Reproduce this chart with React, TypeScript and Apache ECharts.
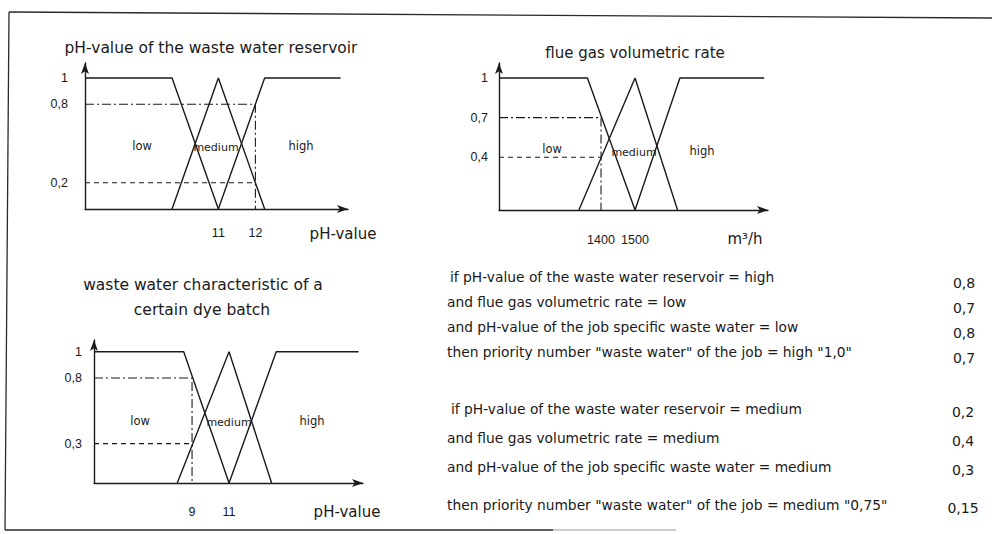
import React, { useEffect, useRef } from "react";
import * as echarts from "echarts";

// ---------- Chart 1: pH-value of the waste water reservoir ----------
const resLow = [[7.4, 1], [9.75, 1], [11, 0]];
const resMedium = [[9.75, 0], [11, 1], [12.25, 0]];
const resHigh = [[11, 0], [12.25, 1], [14.3, 1]];
const resReading = 12;
const resDegreeHigh = 0.8;
const resDegreeMedium = 0.2;
const resYTicks = [0.2, 0.8, 1];
const resXTicks = [11, 12];
const resXRange = [7.4, 14.5];

// ---------- Chart 2: flue gas volumetric rate ----------
const gasLow = [[1100, 1], [1360, 1], [1500, 0]];
const gasMedium = [[1335, 0], [1500, 1], [1625, 0]];
const gasHigh = [[1500, 0], [1632, 1], [1880, 1]];
const gasReading = 1400;
const gasDegreeLow = 0.7;
const gasDegreeMedium = 0.4;
const gasYTicks = [0.4, 0.7, 1];
const gasXTicks = [1400, 1500];
const gasXRange = [1100, 1891];

// ---------- Chart 3: waste water characteristic of a certain dye batch ----------
const dyeLow = [[3.7, 1], [8.55, 1], [11, 0]];
const dyeMedium = [[8.2, 0], [11, 1], [13.3, 0]];
const dyeHigh = [[11, 0], [13.55, 1], [18, 1]];
const dyeReading = 9;
const dyeDegreeLow = 0.8;
const dyeDegreeMedium = 0.3;
const dyeYTicks = [0.3, 0.8, 1];
const dyeXTicks = [9, 11];
const dyeXRange = [3.7, 18.24];

// ---------- Rules ----------
const ruleHighLines = [
  "if pH-value of the waste water reservoir = high",
  "and flue gas volumetric rate = low",
  "and pH-value of the job specific waste water = low",
  'then priority number "waste water" of the job = high "1,0"',
];
const ruleHighDegrees = [0.8, 0.7, 0.8, 0.7];
const ruleMediumLines = [
  "if pH-value of the waste water reservoir = medium",
  "and flue gas volumetric rate = medium",
  "and pH-value of the job specific waste water = medium",
  'then priority number "waste water" of the job = medium "0,75"',
];
const ruleMediumDegrees = [0.2, 0.4, 0.3, 0.15];

const INK = "#1a1a1a";
const FONT = "'DejaVu Sans', sans-serif";
const TICKFONT = "'Liberation Sans', Arial, sans-serif";

const comma = (v: number) => String(v).replace(".", ",");

function axesFor(idx: number, xr: number[], yMax: number, xTicks: number[], yTicks: number[], xMargin: number, yMargin: number) {
  const axisLine = {
    show: true,
    onZero: false,
    symbol: ["none", "arrow"],
    symbolSize: [6, 11],
    lineStyle: { color: INK, width: 1.4 },
  };
  const x = {
    type: "value",
    gridIndex: idx,
    min: xr[0],
    max: xr[1],
    axisLine,
    axisTick: { show: false },
    splitLine: { show: false },
    axisLabel: {
      customValues: xTicks,
      formatter: (v: number) => comma(v),
      margin: xMargin,
      color: INK,
      fontSize: 12.5,
      fontFamily: TICKFONT,
    },
  };
  const y = {
    type: "value",
    gridIndex: idx,
    min: 0,
    max: yMax,
    axisLine,
    axisTick: { show: false },
    splitLine: { show: false },
    axisLabel: {
      customValues: yTicks,
      formatter: (v: number) => comma(v),
      margin: yMargin,
      color: INK,
      fontSize: 12.5,
      fontFamily: TICKFONT,
    },
  };
  return { x, y };
}

function seriesFor(idx: number, curves: number[][][], dashDot: number[][], dashed: number[][]) {
  const base = {
    type: "line",
    xAxisIndex: idx,
    yAxisIndex: idx,
    symbol: "none",
    silent: true,
    animation: false,
  };
  const out: any[] = curves.map((c) => ({
    ...base,
    data: c,
    lineStyle: { color: INK, width: 1.4 },
  }));
  out.push({ ...base, data: dashDot, lineStyle: { color: INK, width: 1.1, type: [9, 3, 2, 3] } });
  out.push({ ...base, data: dashed, lineStyle: { color: INK, width: 1.1, type: [5, 4] } });
  return out;
}

function txt(x: number, y: number, text: string, size: number, align = "center", family = FONT) {
  return {
    type: "text",
    x,
    y,
    silent: true,
    style: { text, fill: INK, fontSize: size, fontFamily: family, align, verticalAlign: "middle" },
  };
}

export default function App() {
  const ref = useRef<HTMLDivElement>(null);

  useEffect(() => {
    if (!ref.current) return;
    const chart = echarts.init(ref.current, null, { renderer: "svg" });

    const a1 = axesFor(0, resXRange, 1.115, resXTicks, resYTicks, 17, 17);
    const a2 = axesFor(1, gasXRange, 1.114, gasXTicks, gasYTicks, 23, 11);
    const a3 = axesFor(2, dyeXRange, 1.09, dyeXTicks, dyeYTicks, 22, 12);

    const series = [
      ...seriesFor(
        0,
        [resLow, resMedium, resHigh],
        [[resXRange[0], resDegreeHigh], [resReading, resDegreeHigh], [resReading, 0]],
        [[resXRange[0], resDegreeMedium], [resReading, resDegreeMedium]]
      ),
      ...seriesFor(
        1,
        [gasLow, gasMedium, gasHigh],
        [[gasXRange[0], gasDegreeLow], [gasReading, gasDegreeLow], [gasReading, 0]],
        [[gasXRange[0], gasDegreeMedium], [gasReading, gasDegreeMedium]]
      ),
      ...seriesFor(
        2,
        [dyeLow, dyeMedium, dyeHigh],
        [[dyeXRange[0], dyeDegreeLow], [dyeReading, dyeDegreeLow], [dyeReading, 0]],
        [[dyeXRange[0], dyeDegreeMedium], [dyeReading, dyeDegreeMedium]]
      ),
    ];

    const ruleElems: any[] = [];
    const block1Y = [277, 302, 327, 352];
    const block2Y = [409, 438, 467, 505];
    ruleHighLines.forEach((l, i) => {
      ruleElems.push(txt(i === 0 ? 450 : 447, block1Y[i], l, 13.8, "left"));
      ruleElems.push(txt(964, block1Y[i] + 6, comma(ruleHighDegrees[i]), 14));
    });
    ruleMediumLines.forEach((l, i) => {
      ruleElems.push(txt(i === 0 ? 451 : 447, block2Y[i], l, 13.8, "left"));
      ruleElems.push(txt(963, block2Y[i] + 3, comma(ruleMediumDegrees[i]), 14));
    });

    const frameLine = (x1: number, y1: number, x2: number, y2: number, color = "#2a2a2a", w = 1.3) => ({
      type: "line",
      silent: true,
      shape: { x1, y1, x2, y2 },
      style: { stroke: color, lineWidth: w },
    });

    chart.setOption({
      animation: false,
      backgroundColor: "#ffffff",
      grid: [
        { left: 85, top: 63, width: 263, height: 146 },
        { left: 499, top: 63, width: 269, height: 147 },
        { left: 94, top: 340, width: 269, height: 143 },
      ],
      xAxis: [a1.x, a2.x, a3.x],
      yAxis: [a1.y, a2.y, a3.y],
      series,
      graphic: [
        // frame
        frameLine(9, 12, 992, 18),
        frameLine(9, 12, 5, 530),
        frameLine(5, 530, 553, 530),
        frameLine(553, 530, 676, 530, "#9a9a9a", 1),
        // titles
        txt(211, 48, "pH-value of the waste water reservoir", 15.5),
        txt(635, 53, "flue gas volumetric rate", 15),
        txt(203, 285, "waste water characteristic of a", 15.5),
        txt(202, 310, "certain dye batch", 15.5),
        // axis names
        txt(343, 234, "pH-value", 15),
        txt(745, 239, "m³/h", 15),
        txt(347, 512, "pH-value", 15),
        // region labels
        txt(142, 146, "low", 11.5),
        txt(216, 147, "medium", 11),
        txt(301, 146, "high", 11.5),
        txt(552, 149, "low", 11.5),
        txt(634, 152, "medium", 11),
        txt(702, 151, "high", 11.5),
        txt(140, 421, "low", 11.5),
        txt(229, 422, "medium", 11),
        txt(312, 421, "high", 11.5),
        ...ruleElems,
      ],
    });

    return () => chart.dispose();
  }, []);

  return (
    <div
      ref={ref}
      style={{ position: "fixed", left: 0, top: 0, width: 992, height: 534, background: "#fff" }}
    />
  );
}
